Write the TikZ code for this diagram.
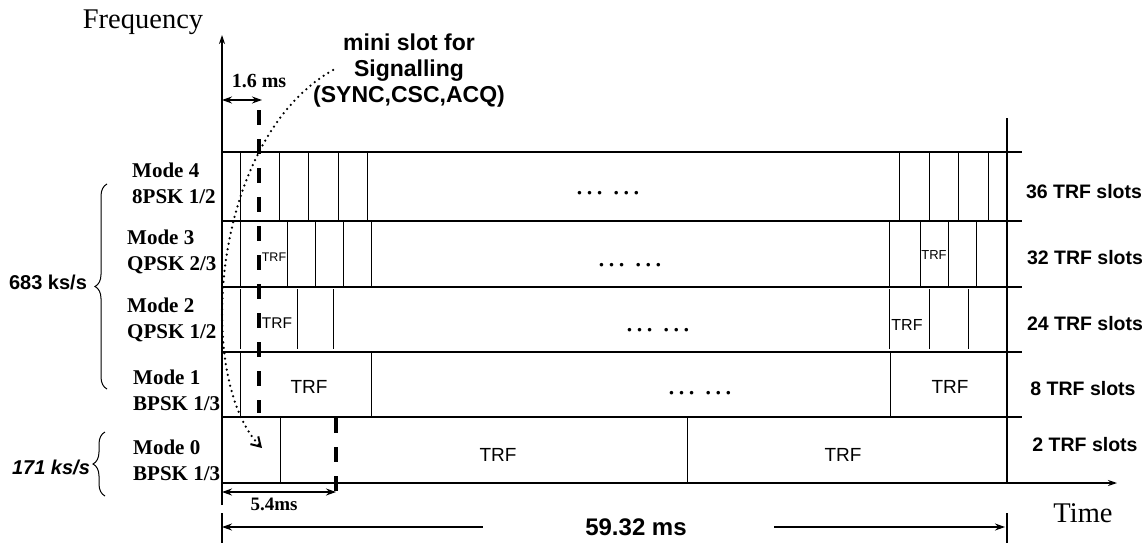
\documentclass[tikz,border=0pt]{standalone}
\usepackage{fontspec}
\setmainfont{Liberation Serif}
\setsansfont{Liberation Sans}
\usetikzlibrary{arrows.meta,calc,positioning,decorations.pathreplacing}

\begin{document}
\begin{tikzpicture}[x=1pt,y=-1pt,
  axis/.style={line width=1.3pt},
  rowline/.style={line width=1.3pt},
  slotline/.style={line width=0.9pt},
  marker/.style={line width=4pt,dash pattern=on 15pt off 14pt},
  dimarrow/.style={line width=1.2pt,{Stealth[length=10pt,width=7pt]}-{Stealth[length=10pt,width=7pt]}},
  modelbl/.style={anchor=west,align=left,inner sep=0pt,font=\fontsize{21}{26}\selectfont\bfseries},
  slotlbl/.style={inner sep=0pt,font=\sffamily\bfseries\fontsize{19.5}{22}\selectfont},
  trf/.style={inner sep=0pt,font=\sffamily\fontsize{#1}{#1}\selectfont},
  trf/.default=19,
  dots/.style={anchor=base,inner sep=0pt,font=\fontsize{30}{30}\selectfont},
]
\useasboundingbox (0,0) rectangle (1148,543);

% axes
\coordinate (O) at (222,483);
\coordinate (ftop) at (222,35);
\coordinate (tend) at (1117,483);
\draw[axis,-{Stealth[length=9pt,width=6pt]}] (222,505) -- (ftop);
\draw[axis,-{Stealth[length=9pt,width=6pt]}] (O) -- (tend);
\node[font=\fontsize{28.5}{28.5}\selectfont] (freq) at (143,22) {Frequency};
\node[font=\fontsize{28.5}{28.5}\selectfont] (time) at (1083,513) {Time};

% rows
\foreach \y in {152,221,287,352,417}
  \draw[rowline] (222,\y) -- (1022,\y);
\draw[rowline] (1007,118) -- (1007,483);

% slot borders
\foreach \x in {240,279,308,338,367,899,929,958,988}
  \draw[slotline] (\x,152) -- (\x,221);
\foreach \x in {240,287,315,343,371,889,920,948,976}
  \draw[slotline] (\x,221) -- (\x,287);
\foreach \x in {240,297,333,889,929,968}
  \draw[slotline] (\x,289) -- (\x,349);
\foreach \x in {240,371,890}
  \draw[slotline] (\x,352) -- (\x,417);
\foreach \x in {280,687}
  \draw[slotline] (\x,417) -- (\x,483);

% TRF labels
\node[trf=12.5] (t3a) at (274,257) {TRF};
\node[trf=13] (t3b) at (934,255) {TRF};
\node[trf=15.5] (t2a) at (277,323) {TRF};
\node[trf=16] (t2b) at (907,325) {TRF};
\node[trf] (t1a) at (309,387) {TRF};
\node[trf] (t1b) at (950,387) {TRF};
\node[trf] (t0a) at (498,455) {TRF};
\node[trf] (t0b) at (843,455) {TRF};

% dots
\node[dots] (g4) at (608,194) {\textellipsis\hspace{7pt}\textellipsis};
\node[dots] (g3) at (630,266) {\textellipsis\hspace{7pt}\textellipsis};
\node[dots] (g2) at (658,331) {\textellipsis\hspace{7pt}\textellipsis};
\node[dots] (g1) at (700,394) {\textellipsis\hspace{7pt}\textellipsis};

% modes
\node[modelbl] (m4) at (132,183) {Mode 4\\8PSK 1/2};
\node[modelbl] (m3) at (127,252) {Mode 3\\QPSK 2/3};
\node[modelbl] (m2) at (127,320) {Mode 2\\QPSK 1/2};
\node[modelbl] (m1) at (133,390) {Mode 1\\BPSK 1/3};
\node[modelbl] (m0) at (133,460) {Mode 0\\BPSK 1/3};

\node[slotlbl] (s4) at (1084,192) {36 TRF slots};
\node[slotlbl] (s3) at (1085,258) {32 TRF slots};
\node[slotlbl] (s2) at (1085,324) {24 TRF slots};
\node[slotlbl] (s1) at (1083,389) {8 TRF slots};
\node[slotlbl] (s0) at (1085,445) {2 TRF slots};

% symbol rates
\draw[decorate,decoration={brace,amplitude=12pt},line width=1pt] (107,389) -- (107,184);
\draw[decorate,decoration={brace,amplitude=12pt},line width=1pt] (105,496) -- (105,432);
\node[font=\sffamily\bfseries\fontsize{20}{20}\selectfont] (r683) at (48,282) {683 ks/s};
\node[font=\sffamily\bfseries\itshape\fontsize{20}{20}\selectfont] (r171) at (51,467) {171 ks/s};

% signalling slot
\draw[marker] (259,110) -- (259,413);
\draw[marker] (336,418) -- (336,492);
\node[align=center,font=\sffamily\bfseries\fontsize{23}{26}\selectfont] (mini) at (409,71) {mini slot for\\Signalling\\(SYNC,CSC,ACQ)};
\coordinate (sigstart) at (333,70);
\coordinate (sigend) at (262,448);
\draw[line width=2.5pt,line cap=round,dash pattern=on 0pt off 5.5pt,-{Straight Barb[length=9pt,width=11pt,line width=2pt]}]
  (sigstart) .. controls (210,140) and (195,380) .. (sigend);

% durations
\draw[dimarrow] (222,100) -- (262,100);
\node[font=\fontsize{20}{20}\selectfont\bfseries] (d16) at (259,81) {1.6 ms};
\draw[dimarrow] (222,492) -- (336,492);
\node[font=\fontsize{19}{19}\selectfont\bfseries] (d54) at (274,504) {5.4ms};
\node[font=\sffamily\bfseries\fontsize{24}{24}\selectfont] (d5932) at (636,527) {59.32 ms};
\draw[line width=1.2pt,{Stealth[length=10pt,width=7pt]}-] (222,527) -- (483,527);
\draw[line width=1.2pt,-{Stealth[length=10pt,width=7pt]}] (774,527) -- (1005,527);
\draw[axis] (222,513) -- (222,543);
\draw[axis] (1007,513) -- (1007,543);
\end{tikzpicture}
\end{document}
